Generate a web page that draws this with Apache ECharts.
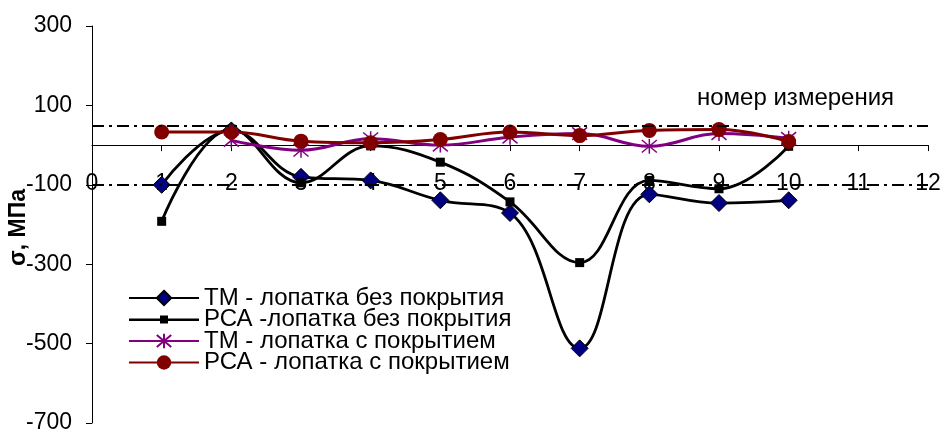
<!DOCTYPE html>
<html>
<head>
<meta charset="utf-8">
<script src="https://cdn.jsdelivr.net/npm/echarts@6/dist/echarts.min.js"></script>
<style>html,body{margin:0;padding:0;background:#fff}#c{width:944px;height:430px}</style>
</head>
<body>
<div id="c"></div>
<script>
const xValues = [1, 2, 3, 4, 5, 6, 7, 8, 9, 10];
const tmNoCoat = [-100, 37, -80, -89, -139, -171, -512, -124, -146, -139];
const rsaNoCoat = [-192, 40, -95, -2, -43, -143, -296, -89, -110, -3];
const tmCoat = [null, 12, -13, 16, 0, 20, 29, -3, 29, 17];
const rsaCoat = [33, 33, 10, 6, 14, 33, 24, 37, 39, 9];
const seriesNames = ['ТМ - лопатка без покрытия', 'РСА -лопатка без покрытия', 'ТМ - лопатка с покрытием', 'РСА - лопатка с покрытием'];
const yTickValues = [-700, -500, -300, -100, 100, 300];
const refLines = [50, -100];
const xAxisTitle = 'номер измерения';
const yAxisTitle = 'σ, МПа';

function pairs(arr) { return xValues.map((x, i) => [x, arr[i]]); }
const FONT = "'Liberation Sans', Arial, sans-serif";
const star = 'path://M-1,-1L1,1M-1,1L1,-1M0,-1.2L0,1.2';
const smallSquareIcon = 'path://M0,8L31,8L31,5L39,5L39,8L70,8L70,10.5L39,10.5L39,13L31,13L31,10.5L0,10.5Z';
const GRID_BOTTOM = 7;

const chart = echarts.init(document.getElementById('c'), null, {renderer: 'canvas'});
chart.setOption({
  animation: false,
  backgroundColor: '#fff',
  textStyle: {fontFamily: FONT},
  title: {
    text: xAxisTitle, left: 692, top: 81,
    textStyle: {fontSize: 24, fontWeight: 'normal', color: '#000', fontFamily: FONT}
  },
  grid: {left: 92, right: 16, top: 26, bottom: GRID_BOTTOM, containLabel: false, outerBoundsMode: 'none'},
  legend: {
    orient: 'vertical', left: 128, top: 286, padding: 0,
    itemWidth: 70, itemHeight: 18, itemGap: -2.5,
    textStyle: {fontSize: 24, lineHeight: 22, color: '#000', fontFamily: FONT},
    data: [
      {name: seriesNames[0]},
      {name: seriesNames[1], icon: smallSquareIcon},
      {name: seriesNames[2]},
      {name: seriesNames[3]}
    ]
  },
  xAxis: {
    type: 'value', min: 0, max: 12, interval: 1, position: 'bottom', offset: 0,
    axisLine: {onZero: false, lineStyle: {color: '#000', width: 1}},
    axisTick: {show: true, length: 6, lineStyle: {color: '#000'}},
    axisLabel: {fontSize: 23, color: '#000', margin: 27, fontFamily: FONT},
    splitLine: {show: false}
  },
  yAxis: {
    type: 'value', min: -700, max: 300, interval: 100,
    name: yAxisTitle, nameLocation: 'middle', nameRotate: 90, nameGap: 62, nameMoveOverlap: false,
    nameTextStyle: {fontSize: 23, fontWeight: 'bold', color: '#000', fontFamily: FONT, padding: [0, 6, 0, 0]},
    axisLine: {show: true, onZero: false, lineStyle: {color: '#000', width: 1}},
    axisTick: {show: true, length: 6, customValues: yTickValues, lineStyle: {color: '#000'}},
    axisLabel: {fontSize: 23, color: '#000', margin: 20, customValues: yTickValues, fontFamily: FONT},
    splitLine: {show: false}
  },
  series: [
    {
      name: seriesNames[0], type: 'line', smooth: 0.4, data: pairs(tmNoCoat),
      symbol: 'diamond', symbolSize: 17,
      lineStyle: {color: '#000', width: 2.8},
      itemStyle: {color: '#000080', borderColor: '#000', borderWidth: 1},
      markLine: {
        silent: true, symbol: 'none', label: {show: false},
        lineStyle: {color: '#000', width: 2, type: [12, 5, 3, 5]},
        data: refLines.map(v => ({yAxis: v}))
      }
    },
    {
      name: seriesNames[1], type: 'line', smooth: 0.4, data: pairs(rsaNoCoat),
      symbol: 'rect', symbolSize: 9,
      lineStyle: {color: '#000', width: 2.8},
      itemStyle: {color: '#000', borderColor: '#000', borderWidth: 0}
    },
    {
      name: seriesNames[2], type: 'line', smooth: 0.4, data: pairs(tmCoat),
      symbol: star, symbolSize: 15,
      lineStyle: {color: '#800080', width: 3},
      itemStyle: {color: '#800080', borderColor: '#800080', borderWidth: 1.5}
    },
    {
      name: seriesNames[3], type: 'line', smooth: 0.4, data: pairs(rsaCoat),
      symbol: 'circle', symbolSize: 15,
      lineStyle: {color: '#800000', width: 3},
      itemStyle: {color: '#800000', borderColor: '#800000', borderWidth: 0}
    }
  ]
});
// Place the x axis where the y scale puts zero (axis crosses at y = 0)
const zeroY = chart.convertToPixel({yAxisIndex: 0}, 0);
const bottomY = chart.getHeight() - GRID_BOTTOM;
chart.setOption({xAxis: {offset: zeroY - bottomY}});
</script>
</body>
</html>
